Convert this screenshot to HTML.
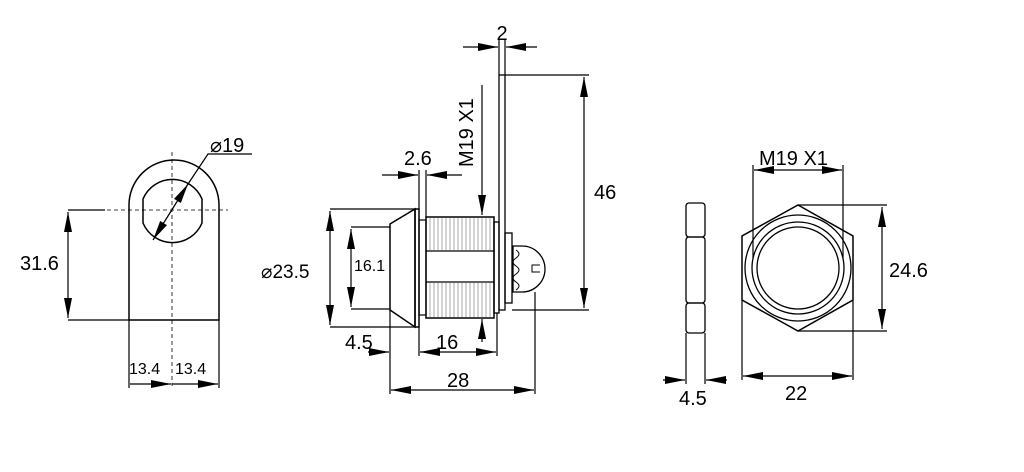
<!DOCTYPE html>
<html><head><meta charset="utf-8"><style>
html,body{margin:0;padding:0;background:#fff;}
svg{display:block;}
text{font-family:"Liberation Sans",sans-serif;fill:#000;}
</style></head><body>
<svg width="1024" height="472" viewBox="0 0 1024 472" xmlns="http://www.w3.org/2000/svg">
<defs>
<marker id="a" viewBox="0 0 20 8" refX="20" refY="4" markerWidth="20" markerHeight="9" markerUnits="userSpaceOnUse" orient="auto-start-reverse">
<path d="M0,0 L20,4 L0,8 Z" fill="#000"/></marker>
</defs>
<g stroke="#000" fill="none" stroke-width="1.2">
<!-- LEFT VIEW -->
<path d="M129,320 L129,205 A45,45 0 0 1 219,205 L219,320 Z" stroke-width="1.5"/>
<path d="M143,199 A32,32 0 0 1 202,199 L202,223 A32,32 0 0 1 143,223 Z" stroke-width="1.5"/>
<line x1="100" y1="210" x2="228" y2="210" stroke-dasharray="4,3" stroke-width="0.8"/>
<line x1="172" y1="152" x2="172" y2="386" stroke-dasharray="4,3" stroke-width="0.8"/>
<line x1="68" y1="210" x2="105" y2="210"/>
<line x1="68" y1="320" x2="129" y2="320"/>
<line x1="68" y1="212" x2="68" y2="318" marker-start="url(#a)" marker-end="url(#a)"/>
<line x1="153" y1="240" x2="188" y2="184" marker-start="url(#a)" marker-end="url(#a)"/>
<polyline points="188,184 208,154 252,154"/>
<line x1="129" y1="320" x2="129" y2="388"/>
<line x1="219" y1="320" x2="219" y2="388"/>
<line x1="130" y1="384" x2="171" y2="384" marker-end="url(#a)"/>
<line x1="172" y1="384" x2="218" y2="384" marker-end="url(#a)"/>

<!-- MIDDLE VIEW -->
<path d="M390,224 L415,209 L415,327 L390,310 Z" stroke-width="1.5"/>
<rect x="415" y="209" width="4" height="118" stroke-width="1.5"/>
<rect x="419" y="220" width="7" height="95"/>
<rect x="426" y="217" width="68" height="101" stroke-width="1.5"/>
<line x1="426" y1="251" x2="494" y2="251"/>
<line x1="426" y1="282" x2="494" y2="282"/>
<g stroke-width="0.5" stroke="#555">
<path d="M430,218V250M434,218V250M438,218V250M442,218V250M446,218V250M450,218V250M454,218V250M458,218V250M462,218V250M466,218V250M470,218V250M474,218V250M478,218V250M482,218V250M486,218V250M490,218V250"/>
<path d="M430,283V317M434,283V317M438,283V317M442,283V317M446,283V317M450,283V317M454,283V317M458,283V317M462,283V317M466,283V317M470,283V317M474,283V317M478,283V317M482,283V317M486,283V317M490,283V317"/>
</g>
<rect x="494" y="222" width="5" height="91" stroke-width="1.3"/>
<rect x="499" y="75" width="6" height="235" stroke-width="1.3"/>
<rect x="505" y="233" width="7" height="70" stroke-width="1.3"/>
<path d="M513,246 L522,246 A23,23 0 0 1 522,292 L513,292 Z" stroke-width="1.3"/>
<path d="M516,250 q6,4 0,8 q-6,4 0,8 q6,4 0,8 q-6,4 0,8 q6,4 0,8" stroke-width="1"/>
<path d="M540,265 L532,265 L532,272 L540,272" stroke-width="1"/>
<line x1="499" y1="40" x2="499" y2="75"/>
<line x1="505" y1="40" x2="505" y2="75"/>
<line x1="463" y1="47" x2="498" y2="47" marker-end="url(#a)"/>
<line x1="537" y1="47" x2="506" y2="47" marker-end="url(#a)"/>
<line x1="505" y1="75" x2="589" y2="75"/>
<line x1="512" y1="310" x2="589" y2="310"/>
<line x1="584" y1="77" x2="584" y2="308" marker-start="url(#a)" marker-end="url(#a)"/>
<line x1="482" y1="85" x2="482" y2="215" marker-end="url(#a)"/>
<line x1="419" y1="170" x2="419" y2="209"/>
<line x1="426" y1="170" x2="426" y2="217"/>
<line x1="382" y1="175" x2="418" y2="175" marker-end="url(#a)"/>
<line x1="462" y1="175" x2="427" y2="175" marker-end="url(#a)"/>
<line x1="330" y1="209" x2="415" y2="209"/>
<line x1="330" y1="327" x2="415" y2="327"/>
<line x1="330" y1="211" x2="330" y2="325" marker-start="url(#a)" marker-end="url(#a)"/>
<line x1="351" y1="227" x2="390" y2="227"/>
<line x1="351" y1="309" x2="390" y2="309"/>
<line x1="351" y1="229" x2="351" y2="307" marker-start="url(#a)" marker-end="url(#a)"/>
<line x1="368" y1="352" x2="389" y2="352" marker-end="url(#a)"/>
<line x1="390" y1="310" x2="390" y2="394"/>
<line x1="419" y1="327" x2="419" y2="356"/>
<line x1="497" y1="313" x2="497" y2="356"/>
<line x1="458" y1="352" x2="420" y2="352" marker-end="url(#a)"/>
<line x1="458" y1="352" x2="496" y2="352" marker-end="url(#a)"/>
<line x1="482" y1="342" x2="482" y2="319" marker-end="url(#a)"/>
<line x1="535" y1="292" x2="535" y2="394"/>
<line x1="391" y1="390" x2="534" y2="390" marker-start="url(#a)" marker-end="url(#a)"/>

<!-- RIGHT VIEW -->
<rect x="686" y="203" width="19" height="34" rx="3" stroke-width="1.3"/>
<rect x="686" y="237" width="19" height="66" rx="3" stroke-width="1.3"/>
<rect x="686" y="303" width="19" height="30" rx="3" stroke-width="1.3"/>
<line x1="686" y1="333" x2="686" y2="384"/>
<line x1="705" y1="333" x2="705" y2="384"/>
<line x1="663" y1="380" x2="685" y2="380" marker-end="url(#a)"/>
<line x1="727" y1="380" x2="706" y2="380" marker-end="url(#a)"/>
<polygon points="798,205 853,236 853,300 798,331 742,300 742,236" stroke-width="1.5"/>
<circle cx="798" cy="268" r="53" stroke-width="1.3"/>
<circle cx="798" cy="268" r="46" stroke-width="1.3"/>
<circle cx="798" cy="268" r="41" stroke-width="1.3"/>
<line x1="753" y1="165" x2="753" y2="258"/>
<line x1="843" y1="165" x2="843" y2="258"/>
<line x1="754" y1="170" x2="842" y2="170" marker-start="url(#a)" marker-end="url(#a)"/>
<line x1="798" y1="205" x2="887" y2="205"/>
<line x1="798" y1="331" x2="887" y2="331"/>
<line x1="882" y1="207" x2="882" y2="329" marker-start="url(#a)" marker-end="url(#a)"/>
<line x1="742" y1="300" x2="742" y2="380"/>
<line x1="853" y1="300" x2="853" y2="380"/>
<line x1="743" y1="376" x2="852" y2="376" marker-start="url(#a)" marker-end="url(#a)"/>
</g>
<g font-size="20">
<text x="20" y="270">31.6</text>
<text x="210" y="152">⌀19</text>
<text x="261" y="278" font-size="19">⌀23.5</text>
<text x="502" y="40" text-anchor="middle">2</text>
<text x="594" y="199">46</text>
<text x="404" y="165">2.6</text>
<text x="345" y="349">4.5</text>
<text x="436" y="349">16</text>
<text x="447" y="387">28</text>
<text transform="translate(473,167) rotate(-90)">M19 X1</text>
<text x="759" y="165">M19 X1</text>
<text x="889" y="277">24.6</text>
<text x="785" y="400">22</text>
<text x="679" y="405">4.5</text>
</g>
<g font-size="16">
<text x="129" y="374">13.4</text>
<text x="175" y="374">13.4</text>
<text x="354" y="271">16.1</text>
</g>
</svg>
</body></html>
